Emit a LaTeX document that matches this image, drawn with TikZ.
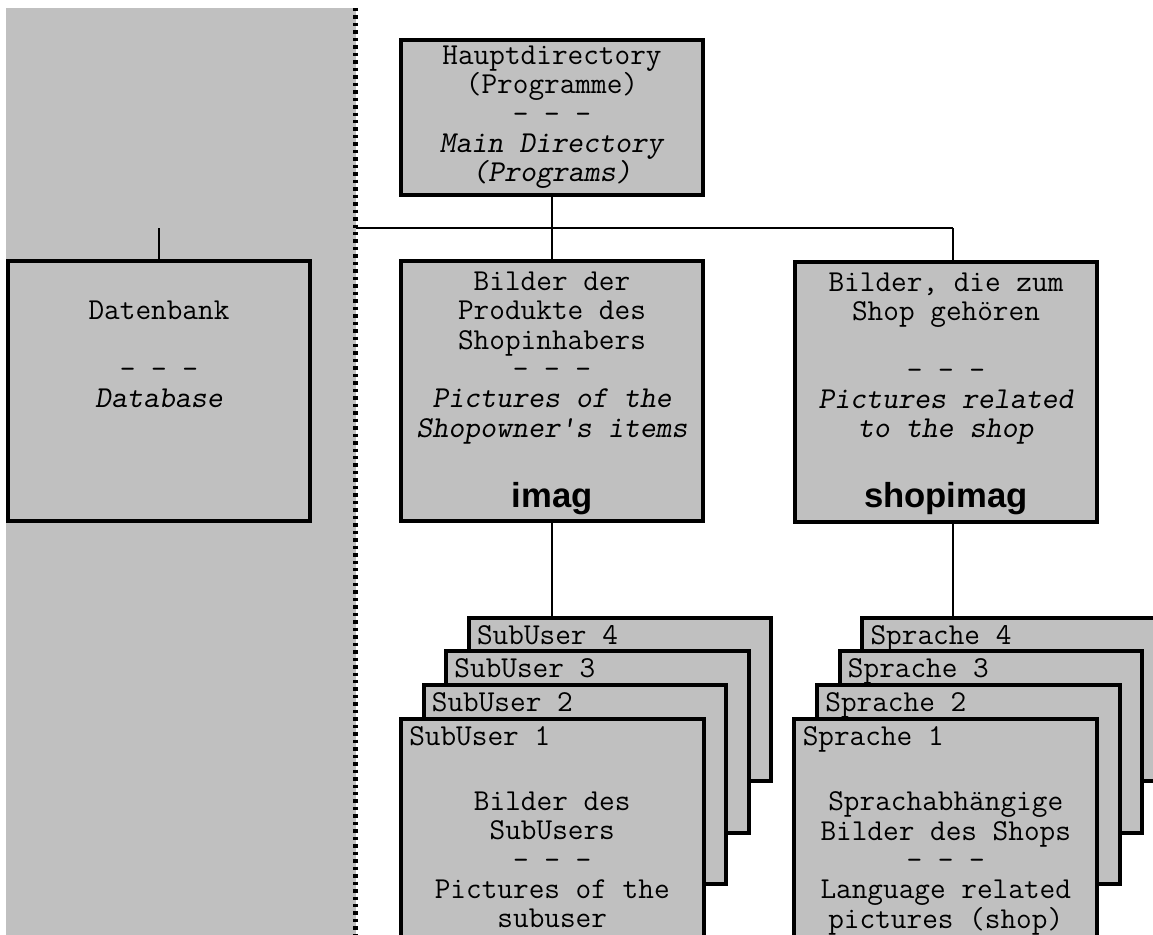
\documentclass[tikz,border=0pt]{standalone}
\usepackage{fontspec}
\setsansfont{Liberation Sans}
\usetikzlibrary{positioning}
\definecolor{panelGray}{RGB}{192, 192, 192}
\tikzset{
    % Base Folder Style
    folder/.style={
        rectangle,
        draw=black,
        line width=3pt,
        fill=panelGray,
        minimum width=226.9pt,
        inner sep=0pt,
        outer sep=0pt,
        align=center,
        font=\ttfamily\fontsize{22.8}{22}\selectfont
    },
    % Specific Folder Sizes
    folderMain/.style={folder, minimum height=116.25pt},
    folderBig/.style={folder, minimum height=195pt},
    % Text Styles
    folderText/.style={inner sep=0pt, align=center, font=\ttfamily\fontsize{22.8}{22}\selectfont},
    folderTag/.style={inner sep=0pt, font=\sffamily\bfseries\fontsize{26}{28}\selectfont},
    stackLabel/.style={inner sep=0pt, font=\ttfamily\fontsize{22.8}{22}\selectfont},
    % Line Styles
    link/.style={line width=1pt, draw=black},
    divider/.style={line width=3.75pt, draw=black, dash pattern=on 2.6pt off 3pt}
}

\begin{document}
\begin{tikzpicture}[x=0.75pt, y=-0.75pt]

    \useasboundingbox (0,0) rectangle (1153,935);
    \clip (0,0) rectangle (1153,935);

    % --- LEFT PANEL (Database) ---
    \fill [panelGray] (6,8) rectangle (355.5,936);
    \draw [divider] (355.5,8) -- (355.5,936);

    % --- TOP ---

    % 1. Main Directory
    \node (main) [folderMain] at (552,117.5) {
        Hauptdirectory \\
        (Programme) \\
        - - - \\
        \textsl{Main Directory} \\
        \textsl{(Programs)}
    };

    % --- MIDDLE ROW ---

    % 2. Database (Left Panel)
    \node (db) [folderBig] at (159,391) {};
    \node (dbText) [folderText, below=30pt of db.north] {
        Datenbank \\
        \mbox{} \\
        - - - \\
        \textsl{Database}
    };

    % 3. Pictures of the items
    \node (imag) [folderBig] at (552,391) {};
    \node (imagText) [folderText, below=8pt of imag.north] {
        Bilder der \\
        Produkte des \\
        Shopinhabers \\
        - - - \\
        \textsl{Pictures of the} \\
        \textsl{Shopowner's items}
    };
    \node (imagTag) [folderTag, above=4.5pt of imag.south] {imag};

    % 4. Pictures of the shop
    \node (shopimag) [folderBig] at (946,391.5) {};
    \node (shopimagText) [folderText, below=8pt of shopimag.north] {
        Bilder, die zum \\
        Shop gehören \\
        \mbox{} \\
        - - - \\
        \textsl{Pictures related} \\
        \textsl{to the shop}
    };
    \node (shopimagTag) [folderTag, above=4.5pt of shopimag.south] {shopimag};

    % --- BOTTOM ROW (Stacks, back to front) ---

    % 5. SubUser folders
    \node (su4) [folder, minimum height=122.8pt] at (620.05,699.45) {};
    \node (su4Label) [stackLabel, below right=5.5pt and 6pt of su4.north west] {SubUser 4};
    \node (su3) [folder, minimum height=136pt] at (597.45,742.05) {};
    \node (su3Label) [stackLabel, below right=5.5pt and 6pt of su3.north west] {SubUser 3};
    \node (su2) [folder, minimum height=149.2pt] at (574.85,784.65) {};
    \node (su2Label) [stackLabel, below right=5.5pt and 6pt of su2.north west] {SubUser 2};
    \node (su1) [folder, minimum height=165.75pt] at (552.25,829.5) {};
    \node (su1Label) [stackLabel, below right=5.5pt and 6pt of su1.north west] {SubUser 1};
    \node (su1Text) [folderText, below=54.5pt of su1.north] {
        Bilder des \\
        SubUsers \\
        - - - \\
        Pictures of the \\
        subuser
    };

    % 6. Language folders
    \node (sp4) [folder, minimum height=122.8pt] at (1013.55,699.45) {};
    \node (sp4Label) [stackLabel, below right=5.5pt and 6pt of sp4.north west] {Sprache 4};
    \node (sp3) [folder, minimum height=136pt] at (990.95,742.05) {};
    \node (sp3Label) [stackLabel, below right=5.5pt and 6pt of sp3.north west] {Sprache 3};
    \node (sp2) [folder, minimum height=149.2pt] at (968.35,784.65) {};
    \node (sp2Label) [stackLabel, below right=5.5pt and 6pt of sp2.north west] {Sprache 2};
    \node (sp1) [folder, minimum height=165.75pt] at (945.75,829.5) {};
    \node (sp1Label) [stackLabel, below right=5.5pt and 6pt of sp1.north west] {Sprache 1};
    \node (sp1Text) [folderText, below=54.5pt of sp1.north] {
        Sprachabhängige \\
        Bilder des Shops \\
        - - - \\
        Language related \\
        pictures (shop)
    };

    % --- Connectors (The Tree) ---
    \coordinate (busL) at (355.5,228);
    \coordinate (busR) at (953,228);
    \coordinate (dbTap) at (159,228);

    \draw [link] (busL) -- (busR);                                  % Across
    \draw [link] (main.south) -- (imag.north);                      % Down
    \draw [link] (dbTap) -- (db.north);                             % Down (left)
    \draw [link] (busR) -- (busR |- shopimag.north);                % Down (right)
    \draw [link] (imag.south) -- (imag.south |- su4.north);         % To subusers
    \draw [link] (busR |- shopimag.south) -- (busR |- sp4.north);   % To languages

\end{tikzpicture}
\end{document}
